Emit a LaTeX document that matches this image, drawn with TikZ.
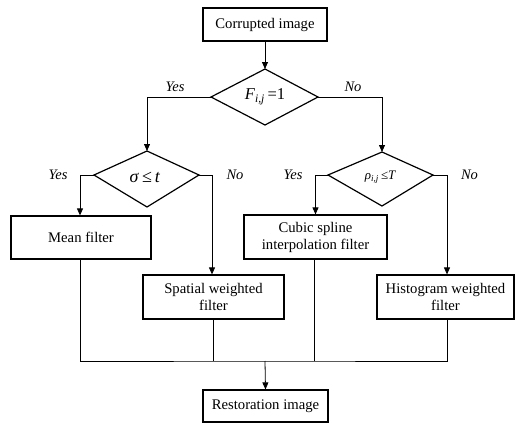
\documentclass[tikz,border=0pt]{standalone}
\usepackage{fontspec}
\setmainfont{Liberation Serif}
\usetikzlibrary{arrows.meta,shapes.geometric}
\tikzset{
  box/.style={draw, line width=1.2pt, rectangle, inner sep=0pt, align=center,
    font=\fontsize{14.7}{17}\selectfont},
  conn/.style={line width=0.8pt},
  arr/.style={conn, -{Triangle[length=7pt,width=6pt]}},
  dia/.style={line width=1.2pt, line join=miter},
  lab/.style={font=\fontsize{14.5}{17}\selectfont\itshape, inner sep=0pt},
  formula/.style={font=\fontsize{16}{17}\selectfont, inner sep=0pt}
}
\begin{document}
\begin{tikzpicture}[x=1pt,y=-1pt]
\useasboundingbox (0,0) rectangle (515,423);
% boxes
\node[box, minimum width=124pt, minimum height=33pt] (corr) at (265,24.5) {Corrupted image};
\node[box, minimum width=140pt, minimum height=43pt] (mean) at (81,237.5) {Mean filter};
\node[box, minimum width=143pt, minimum height=44pt] (cubic) at (315.5,237) {Cubic spline\\interpolation filter};
\node[box, minimum width=141pt, minimum height=44pt] (spatial) at (213.5,297) {Spatial weighted\\filter};
\node[box, minimum width=137pt, minimum height=44pt] (hist) at (445.5,297) {Histogram weighted\\filter};
\node[box, minimum width=125pt, minimum height=32pt] (rest) at (265.5,406) {Restoration image};
% diamond 1
\coordinate (d1t) at (265,69);
\coordinate (d1l) at (211,97);
\coordinate (d1r) at (318,97);
\coordinate (d1b) at (265,125);
\draw[dia] (d1t) -- (d1r) -- (d1b) -- (d1l) -- cycle;
\node[formula, font=\fontsize{16.5}{17}\selectfont] (d1x) at (265,97) {\textit{F}\textsubscript{\textit{i,j}}\,=1};
% diamond 2
\coordinate (d2t) at (147,151);
\coordinate (d2l) at (94,175);
\coordinate (d2r) at (199,175);
\coordinate (d2b) at (147,207);
\draw[dia] (d2t) -- (d2r) -- (d2b) -- (d2l) -- cycle;
\node[formula, font=\fontsize{18}{18}\selectfont] (d2x) at (145,177) {\textit{σ}\,≤\,\textit{t}};
% diamond 3
\coordinate (d3t) at (382,152);
\coordinate (d3l) at (328,175);
\coordinate (d3r) at (433,175);
\coordinate (d3b) at (382,206);
\draw[dia] (d3t) -- (d3r) -- (d3b) -- (d3l) -- cycle;
\node[formula, font=\fontsize{13}{14}\selectfont] (d3x) at (380.5,177) {\textit{ρ}\textsubscript{\textit{i,j}}\,≤\textit{T}};
% connectors
\draw[arr] (corr.south) -- (d1t);
\draw[arr] (d1l) -| (d2t);
\draw[arr] (d1r) -| (d3t);
\draw[arr] (d2l) -| ([xshift=-1pt]mean.north);
\draw[arr] (d2r) -| ([xshift=-1.5pt]spatial.north);
\draw[arr] (d3l) -| (cubic.north);
\draw[arr] (d3r) -| ([xshift=1.5pt]hist.north);
\coordinate (bus) at (265,361);
\draw[conn] ([xshift=-1pt]mean.south) |- (bus) -| ([xshift=1.5pt]hist.south);
\draw[conn] ([xshift=-0.5pt]spatial.south) -- ([xshift=-0.5pt]spatial.south |- bus);
\draw[conn] ([xshift=-1.5pt]cubic.south) -- ([xshift=-1.5pt]cubic.south |- bus);
\draw[arr] (bus) -- (rest.north);
% labels
\node[lab] (y1) at (175,87) {Yes};
\node[lab] (n1) at (353,87) {No};
\node[lab] (y2) at (58,175) {Yes};
\node[lab] (n2) at (235,175) {No};
\node[lab] (y3) at (293,175) {Yes};
\node[lab] (n3) at (469.5,175) {No};
\end{tikzpicture}
\end{document}
